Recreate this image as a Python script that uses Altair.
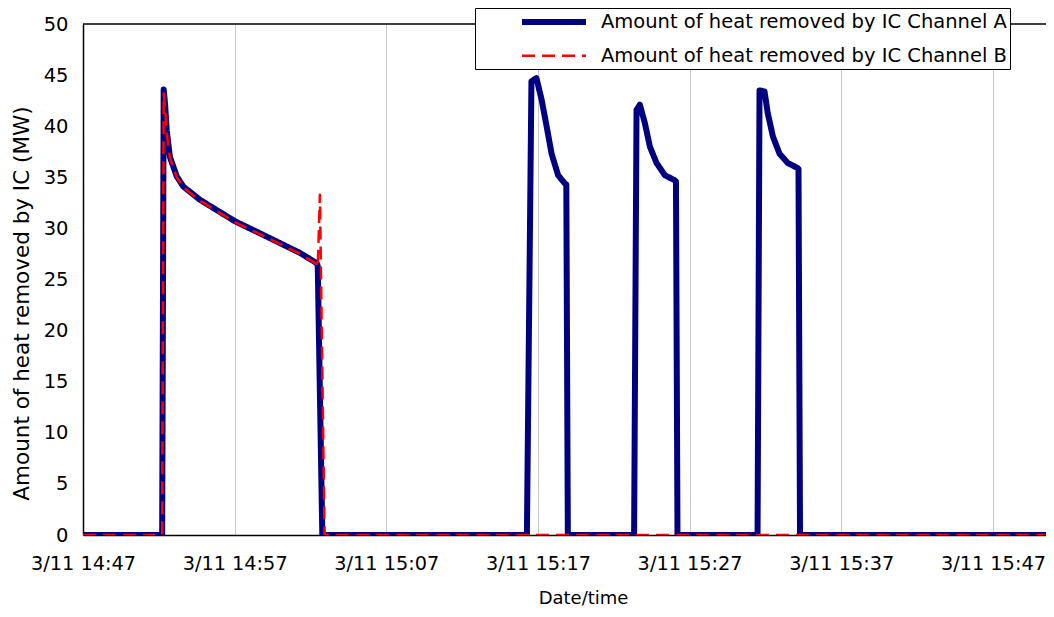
import altair as alt
import pandas as pd

# minutes after 3/11 14:47
a_min = [0.0, 5.22, 5.32, 5.42, 5.52, 5.73, 6.18, 6.61, 7.71, 10.02, 12.11, 14.31, 15.41, 15.48, 15.78,
         29.27, 29.57, 29.90, 30.24, 30.57, 30.90, 31.33, 31.77, 31.87, 31.97,
         36.34, 36.50, 36.72, 37.05, 37.38, 37.82, 38.37, 39.03, 39.10, 39.20,
         44.48, 44.61, 44.94, 45.15, 45.49, 45.93, 46.47, 47.13, 47.18, 47.28,
         63.5]
a_mw = [0.0, 0.0, 43.6, 42.0, 39.6, 37.0, 35.1, 34.1, 32.8, 30.7, 29.2, 27.6, 26.6, 26.3, 0.0,
        0.0, 44.4, 44.7, 42.6, 40.0, 37.3, 35.2, 34.4, 34.3, 0.0,
        0.0, 41.6, 42.1, 40.3, 38.0, 36.4, 35.2, 34.7, 34.6, 0.0,
        0.0, 43.5, 43.4, 41.3, 39.0, 37.3, 36.4, 35.9, 35.8, 0.0,
        0.0]

b_min = [0.0, 5.22, 5.32, 5.42, 5.52, 5.73, 6.18, 6.61, 7.71, 10.02, 12.11, 14.31, 15.41, 15.48,
         15.62, 15.93, 63.5]
b_mw = [0.0, 0.0, 43.2, 41.5, 39.4, 36.9, 35.0, 34.0, 32.7, 30.6, 29.1, 27.5, 26.5, 26.2,
        33.3, 0.0, 0.0]

series_names = ["Amount of heat removed by IC Channel A", "Amount of heat removed by IC Channel B"]
series_colors = ["#000080", "#ff0000"]
tick_min = [0, 10, 20, 30, 40, 50, 60]
tick_labels = ["3/11 14:47", "3/11 14:57", "3/11 15:07", "3/11 15:17",
               "3/11 15:27", "3/11 15:37", "3/11 15:47"]
y_ticks = [0, 5, 10, 15, 20, 25, 30, 35, 40, 45, 50]

df = pd.concat([
    pd.DataFrame({"minute": a_min, "mw": a_mw, "series": series_names[0], "ord": range(len(a_min))}),
    pd.DataFrame({"minute": b_min, "mw": b_mw, "series": series_names[1], "ord": range(len(b_min))}),
], ignore_index=True)

FONT = "DejaVu Sans"
label_expr = "[" + ",".join("'%s'" % s for s in tick_labels) + "][round(datum.value/10)]"

legend = alt.Legend(
    title=None, orient="none", legendX=392, legendY=-16,
    strokeColor="black", fillColor="white", padding=3,
    symbolType="M-4,0H4", symbolSize=256, symbolOffset=65, labelOffset=36,
    labelFont=FONT, labelFontSize=19.5, labelColor="black", labelLimit=1000,
    rowPadding=11, cornerRadius=0,
)

lines = alt.Chart(df).mark_line(clip=True, strokeJoin="round").encode(
    x=alt.X("minute:Q",
            scale=alt.Scale(domain=[0, 63.5], nice=False, zero=False),
            axis=alt.Axis(values=tick_min, labelExpr=label_expr, grid=True,
                          gridColor="#c8c8c8", gridWidth=1, ticks=False,
                          domainColor="black", domainWidth=1.5,
                          labelFont=FONT, labelFontSize=19.3, labelColor="black",
                          labelPadding=19, labelFlush=False,
                          title="Date/time", titleFont=FONT, titleFontSize=18,
                          titleFontWeight="normal", titleColor="black",
                          titleX=500, titleY=63, titleBaseline="middle", titleAlign="center")),
    y=alt.Y("mw:Q",
            scale=alt.Scale(domain=[0, 50], nice=False),
            axis=alt.Axis(values=y_ticks, grid=False, ticks=False,
                          domainColor="black", domainWidth=1.5,
                          labelFont=FONT, labelFontSize=19.5, labelColor="black",
                          labelPadding=15,
                          title="Amount of heat removed by IC (MW)", titleFont=FONT,
                          titleFontSize=21.5, titleFontWeight="normal", titleColor="black",
                          titleX=-61, titleY=279, titleBaseline="middle", titleAlign="center")),
    color=alt.Color("series:N", scale=alt.Scale(domain=series_names, range=series_colors), legend=legend),
    strokeWidth=alt.StrokeWidth("series:N", scale=alt.Scale(domain=series_names, range=[6, 2.5]), legend=legend),
    strokeDash=alt.StrokeDash("series:N", scale=alt.Scale(domain=series_names, range=[[1, 0], [13, 7]]), legend=legend),
    order="ord:Q",
)

top_border = alt.Chart(pd.DataFrame({"top": [50]})).mark_rule(color="black", strokeWidth=1.5).encode(
    y="top:Q"
)

chart = alt.layer(lines, top_border).properties(
    width=963, height=511,
    autosize=alt.AutoSizeParams(type="none"),
    padding={"left": 75, "top": 16, "right": 0, "bottom": 74},
).configure_view(stroke=None)

chart.save("out.html", embed_options={"renderer": "svg", "actions": False})
